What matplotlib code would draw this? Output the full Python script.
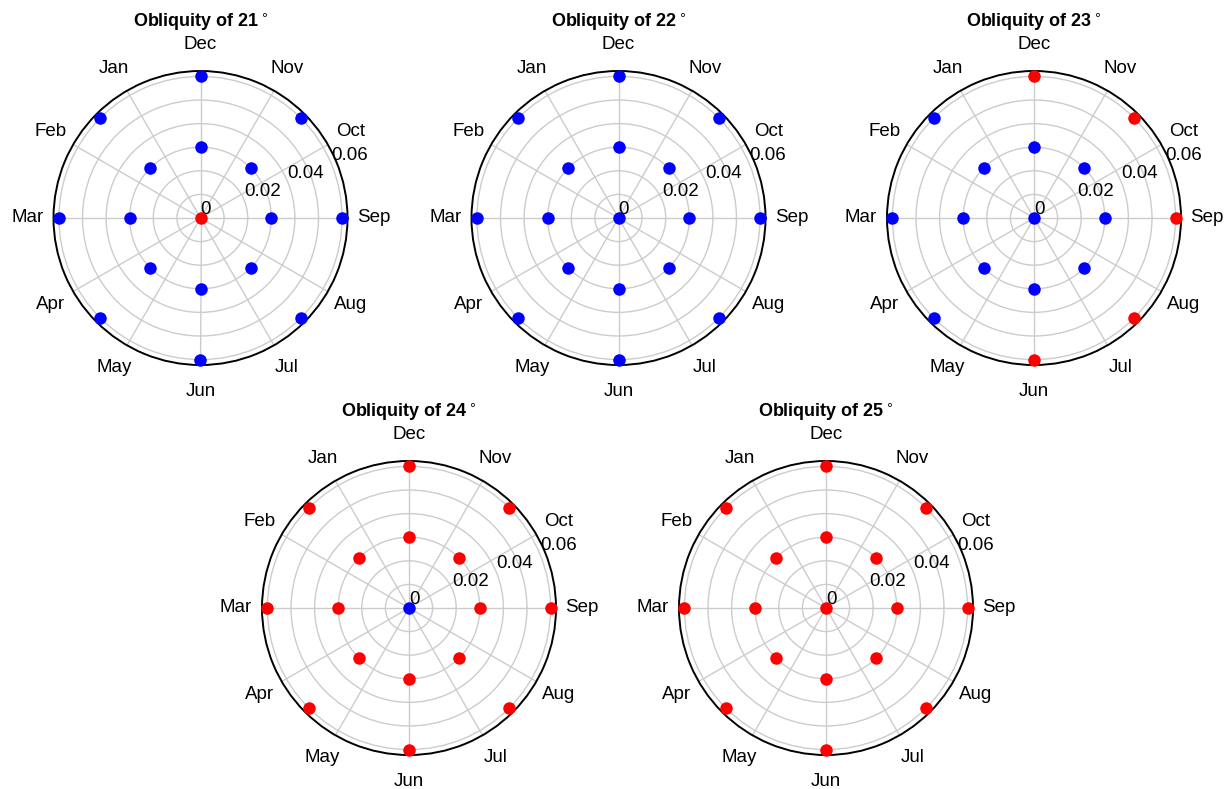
import numpy as np
import matplotlib
matplotlib.use("Agg")
import matplotlib.pyplot as plt

plt.rcParams['font.family'] = ['Liberation Sans', 'DejaVu Sans']

# data
months = ['Sep', 'Oct', 'Nov', 'Dec', 'Jan', 'Feb', 'Mar', 'Apr', 'May', 'Jun', 'Jul', 'Aug']
obliquities = [21, 22, 23, 24, 25]
dir_deg = [0, 45, 90, 135, 180, 225, 270, 315]
r_center = 0.0
r_inner = 0.03
r_outer = 0.06
r_max = 0.0623
r_rings = [0.01, 0.02, 0.03, 0.04, 0.05, 0.06]
r_labels = [0, 0.02, 0.04, 0.06]

center_col = {21: 'r', 22: 'b', 23: 'b', 24: 'b', 25: 'r'}
inner_col = {21: ['b'] * 8, 22: ['b'] * 8, 23: ['b'] * 8, 24: ['r'] * 8, 25: ['r'] * 8}
outer_col = {21: ['b'] * 8, 22: ['b'] * 8,
             23: ['r', 'r', 'r', 'b', 'b', 'b', 'r', 'r'],
             24: ['r'] * 8, 25: ['r'] * 8}
colmap = {'r': '#ff0000', 'b': '#0000ff'}

W, H = 1227, 789
R = 147
centers = [(200.5, 218), (618.5, 218), (1034, 218), (409, 608), (826, 608)]

fig = plt.figure(figsize=(W / 100, H / 100), dpi=100)

for ob, (cx, cy) in zip(obliquities, centers):
    ax = fig.add_axes([(cx - R) / W, (H - cy - R) / H, 2 * R / W, 2 * R / H], polar=True)
    ax.set_ylim(0, r_max)
    ax.set_xticks(np.deg2rad(np.arange(0, 360, 30)))
    ax.set_xticklabels(months, fontsize=13.5)
    ax.tick_params(axis='x', pad=8.3)
    ax.set_yticks(r_rings)
    ax.set_yticklabels([])
    ax.grid(True, color='#cccccc', linewidth=1.0)
    ax.spines['polar'].set_linewidth(1.4)
    ax.spines['polar'].set_color('black')

    for r in r_labels:
        ax.text(np.deg2rad(22.5), r, '%g' % r, ha='left', va='bottom', fontsize=13.5)

    th = np.deg2rad(dir_deg)
    for t, c in zip(th, inner_col[ob]):
        ax.plot(t, r_inner, 'o', color=colmap[c], ms=9, mec='none', zorder=5, clip_on=False)
    for t, c in zip(th, outer_col[ob]):
        ax.plot(t, r_outer, 'o', color=colmap[c], ms=9, mec='none', zorder=5, clip_on=False)
    ax.plot(0, r_center, 'o', color=colmap[center_col[ob]], ms=9, mec='none', zorder=6, clip_on=False)

    ax.set_title('Obliquity of %d$^\\circ$' % ob, fontsize=13, fontweight='bold', pad=32)

fig.savefig('out.png', dpi=100)
